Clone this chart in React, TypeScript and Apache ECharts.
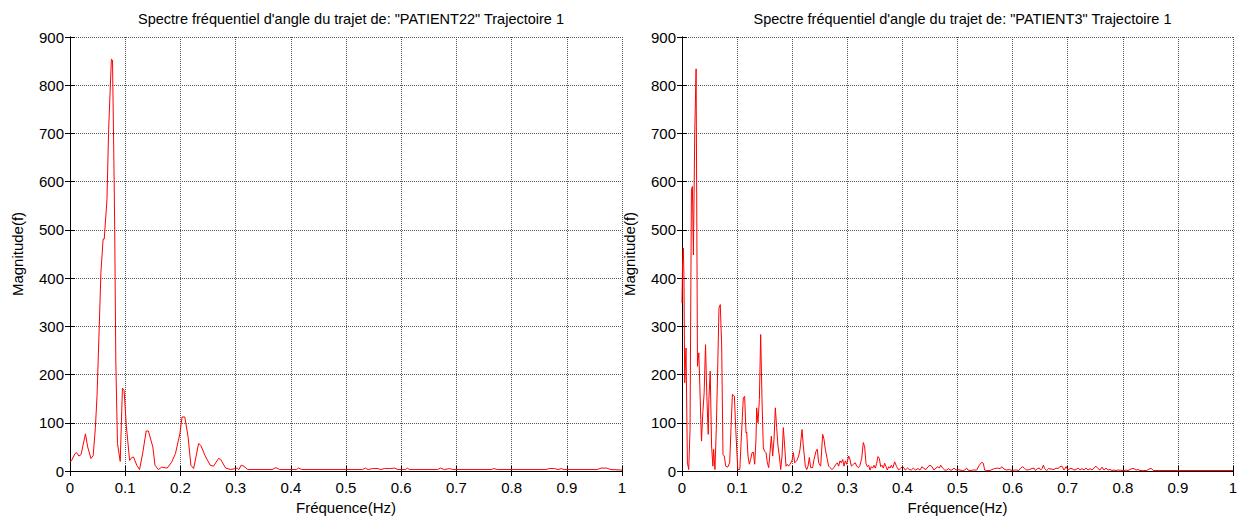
import React, { useEffect, useRef } from "react";
import * as echarts from "echarts";

const FONT = "'Liberation Sans', Arial, Helvetica, sans-serif";

const titleLeft = 'Spectre fréquentiel d\'angle du trajet de: "PATIENT22" Trajectoire 1';
const titleRight = 'Spectre fréquentiel d\'angle du trajet de: "PATIENT3" Trajectoire 1';
const xName = "Fréquence(Hz)";
const yName = "Magnitude(f)";

// [frequency (Hz), magnitude]
const patient22: [number, number][] = [
  [0.000, 18], [0.003, 22], [0.009, 36], [0.012, 38], [0.016, 31], [0.020, 34],
  [0.028, 77], [0.032, 50], [0.038, 26], [0.042, 32], [0.046, 90], [0.049, 157],
  [0.053, 300], [0.056, 412], [0.060, 481], [0.062, 481], [0.067, 563], [0.070, 708],
  [0.075, 854], [0.077, 852], [0.080, 600], [0.081, 500], [0.083, 226], [0.086, 57],
  [0.091, 20], [0.095, 172], [0.098, 167], [0.102, 94], [0.108, 22], [0.112, 28],
  [0.115, 29], [0.121, 12], [0.126, 3], [0.132, 39], [0.138, 83], [0.142, 83],
  [0.150, 50], [0.154, 12], [0.160, 3], [0.166, 8], [0.176, 6], [0.184, 18],
  [0.191, 36], [0.199, 77], [0.203, 112], [0.208, 112], [0.214, 70], [0.219, 12],
  [0.224, 5], [0.233, 57], [0.237, 53], [0.245, 31], [0.254, 12], [0.260, 10],
  [0.269, 26], [0.273, 24], [0.282, 6], [0.291, 3], [0.303, 6], [0.306, 3],
  [0.310, 12], [0.315, 10], [0.322, 3], [0.366, 3], [0.373, 7], [0.380, 3],
  [0.410, 3], [0.414, 6], [0.420, 3], [0.530, 3], [0.535, 6], [0.540, 3],
  [0.548, 5], [0.558, 5], [0.562, 3], [0.570, 5], [0.580, 5], [0.588, 6],
  [0.594, 3], [0.608, 3], [0.611, 6], [0.615, 3], [0.666, 3], [0.671, 6],
  [0.678, 3], [0.688, 5], [0.693, 3], [0.763, 3], [0.768, 5], [0.774, 3],
  [0.862, 3], [0.868, 5], [0.878, 5], [0.884, 3], [0.890, 5], [0.895, 3],
  [0.955, 3], [0.962, 6], [0.972, 6], [0.980, 3], [1.0, 2],
];

const patient3: [number, number][] = [
  [0.0, 348], [0.001, 431], [0.0024, 462], [0.0036, 400], [0.0049, 183], [0.0073, 255],
  [0.0098, 17], [0.0122, 3], [0.0146, 86], [0.0171, 583], [0.0189, 590], [0.0207, 448],
  [0.0232, 707], [0.0256, 834], [0.0281, 217], [0.0305, 245], [0.0317, 203], [0.0341, 107],
  [0.0354, 62], [0.0378, 121], [0.0402, 162], [0.0427, 262], [0.0451, 155], [0.0476, 76],
  [0.0488, 148], [0.0512, 207], [0.0537, 52], [0.0561, 10], [0.0573, 45], [0.0598, 3],
  [0.0622, 86], [0.0646, 203], [0.0671, 338], [0.0695, 345], [0.0720, 259], [0.0744, 34],
  [0.0768, 31], [0.0793, 10], [0.0829, 8], [0.0866, 17], [0.0890, 90], [0.0915, 159],
  [0.0951, 155], [0.0976, 86], [0.1012, 3], [0.1049, 3], [0.1073, 60], [0.1113, 152],
  [0.1137, 155], [0.1162, 79], [0.1174, 81], [0.1198, 31], [0.1222, 14], [0.1246, 24],
  [0.1271, 38], [0.1295, 39], [0.1319, 14], [0.1343, 66], [0.1355, 131], [0.1379, 100],
  [0.1404, 148], [0.1428, 283], [0.1452, 148], [0.1476, 48], [0.1500, 41], [0.1525, 38],
  [0.1549, 17], [0.1573, 7], [0.1597, 38], [0.1621, 72], [0.1646, 31], [0.1670, 66],
  [0.1694, 131], [0.1718, 90], [0.1742, 52], [0.1767, 31], [0.1791, 3], [0.1815, 31],
  [0.1839, 90], [0.1863, 52], [0.1888, 10], [0.1912, 14], [0.1936, 10], [0.1960, 14],
  [0.1996, 21], [0.2021, 38], [0.2045, 17], [0.2081, 21], [0.2117, 31], [0.2142, 45],
  [0.2178, 86], [0.2202, 52], [0.2238, 10], [0.2263, 3], [0.2287, 10], [0.2311, 28],
  [0.2335, 7], [0.2371, 7], [0.2396, 24], [0.2432, 41], [0.2456, 45], [0.2480, 17],
  [0.2517, 10], [0.2553, 76], [0.2577, 66], [0.2601, 45], [0.2637, 24], [0.2662, 10],
  [0.2686, 7], [0.2722, 3], [0.2758, 7], [0.2795, 14], [0.2819, 17], [0.2843, 10],
  [0.2867, 21], [0.2891, 17], [0.2916, 24], [0.2940, 10], [0.2964, 21], [0.2988, 14],
  [0.3025, 31], [0.3049, 24], [0.3073, 10], [0.3110, 14], [0.3146, 17], [0.3170, 10],
  [0.3206, 7], [0.3230, 12], [0.3261, 26], [0.3291, 59], [0.3315, 50], [0.3339, 16],
  [0.3364, 9], [0.3388, 12], [0.3412, 2], [0.3436, 9], [0.3460, 6], [0.3485, 12],
  [0.3509, 6], [0.3533, 16], [0.3557, 30], [0.3581, 26], [0.3606, 9], [0.3630, 12],
  [0.3654, 6], [0.3678, 16], [0.3702, 9], [0.3727, 2], [0.3751, 9], [0.3775, 6],
  [0.3799, 12], [0.3823, 6], [0.3860, 19], [0.3896, 9], [0.3932, 2], [0.3969, 6],
  [0.4005, 9], [0.4029, 6], [0.4053, 2], [0.4090, 6], [0.4126, 3], [0.4162, 2],
  [0.4198, 6], [0.4235, 2], [0.4283, 5], [0.4319, 2], [0.4356, 9], [0.4380, 6],
  [0.4428, 3], [0.4465, 9], [0.4501, 12], [0.4537, 9], [0.4574, 2], [0.4610, 6],
  [0.4646, 9], [0.4670, 6], [0.4695, 12], [0.4731, 6], [0.4767, 2], [0.4803, 2],
  [0.4840, 5], [0.4864, 2], [0.4900, 2], [0.4936, 6], [0.4973, 2], [0.5009, 3],
  [0.5045, 2], [0.5094, 1], [0.5130, 2], [0.5166, 6], [0.5191, 2], [0.5227, 1],
  [0.5287, 2], [0.5348, 2], [0.5396, 12], [0.5439, 18], [0.5469, 16], [0.5493, 2],
  [0.5530, 1], [0.5590, 1], [0.5626, 3], [0.5675, 5], [0.5723, 6], [0.5771, 5],
  [0.5808, 9], [0.5844, 4], [0.5893, 2], [0.5941, 3], [0.5989, 1], [0.6038, 2],
  [0.6074, 2], [0.6110, 1], [0.6146, 6], [0.6183, 9], [0.6219, 5], [0.6255, 2],
  [0.6304, 3], [0.6352, 5], [0.6388, 6], [0.6413, 1], [0.6449, 5], [0.6485, 6],
  [0.6509, 2], [0.6534, 5], [0.6558, 12], [0.6582, 5], [0.6618, 1], [0.6655, 5],
  [0.6751, 3], [0.6788, 6], [0.6824, 5], [0.6860, 9], [0.6897, 10], [0.6933, 2],
  [0.6970, 9], [0.7005, 2], [0.7042, 5], [0.7078, 5], [0.7114, 2], [0.7150, 3],
  [0.7187, 6], [0.7223, 2], [0.7259, 5], [0.7296, 2], [0.7332, 6], [0.7368, 2],
  [0.7405, 5], [0.7441, 2], [0.7477, 6], [0.7513, 10], [0.7550, 5], [0.7586, 2],
  [0.7622, 8], [0.7659, 2], [0.7695, 6], [0.7731, 2], [0.7768, 3], [0.7804, 1],
  [0.7840, 2], [0.7876, 1], [0.7913, 2], [0.8022, 1], [0.8058, 2], [0.8094, 1],
  [0.8131, 3], [0.8167, 5], [0.8203, 5], [0.8240, 2], [0.8276, 3], [0.8312, 1],
  [0.8372, 1], [0.8433, 1], [0.8493, 5], [0.8523, 5], [0.8554, 1], [0.9, 1], [1.0, 1],
];

const xMin = 0, xMax = 1, xStep = 0.1;
const yMin = 0, yMax = 900, yStep = 100;

const grids = [
  { left: 70, top: 37, width: 552, height: 434, outerBoundsMode: "none" },
  { left: 682, top: 37, width: 551, height: 434, outerBoundsMode: "none" },
];

export default function App() {
  const ref = useRef<HTMLDivElement>(null);
  useEffect(() => {
    if (!ref.current) return;
    const chart = echarts.init(ref.current, undefined, { renderer: "svg" });
    const line = { lineStyle: { color: "#000", width: 1 } };
    const split = { show: true, lineStyle: { color: "#555", type: [1, 1], width: 1 } };
    const tickIn = { show: true, inside: true, length: 5, lineStyle: { color: "#000" } };
    const xAxes: any[] = [];
    const yAxes: any[] = [];
    grids.forEach((_, i) => {
      xAxes.push({
        type: "value", gridIndex: i, min: xMin, max: xMax, interval: xStep, position: "bottom",
        axisLine: line, axisTick: tickIn, splitLine: split,
        axisLabel: { color: "#000", fontSize: 15, fontFamily: FONT, margin: 9 },
        name: xName, nameLocation: "middle", nameGap: 29,
        nameTextStyle: { color: "#000", fontSize: 15, fontFamily: FONT },
      });
      xAxes.push({
        type: "value", gridIndex: i, min: xMin, max: xMax, interval: xStep, position: "top",
        axisLine: line, axisTick: tickIn, splitLine: { show: false }, axisLabel: { show: false },
      });
      yAxes.push({
        type: "value", gridIndex: i, min: yMin, max: yMax, interval: yStep, position: "left",
        axisLine: line, axisTick: tickIn, splitLine: split,
        axisLabel: { color: "#000", fontSize: 15, fontFamily: FONT, margin: 6 },
        name: yName, nameLocation: "middle", nameGap: 45, nameRotate: 90,
        nameTextStyle: { color: "#000", fontSize: 15, fontFamily: FONT },
      });
      yAxes.push({
        type: "value", gridIndex: i, min: yMin, max: yMax, interval: yStep, position: "right",
        axisLine: line, axisTick: tickIn, splitLine: { show: false }, axisLabel: { show: false },
      });
    });
    chart.setOption({
      animation: false,
      backgroundColor: "#fff",
      title: [
        { text: titleLeft, left: grids[0].left + grids[0].width / 2, textAlign: "center", top: 6,
          textStyle: { fontSize: 14.5, fontWeight: "normal", color: "#000", fontFamily: FONT } },
        { text: titleRight, left: grids[1].left + grids[1].width / 2, textAlign: "center", top: 6,
          textStyle: { fontSize: 14.5, fontWeight: "normal", color: "#000", fontFamily: FONT } },
      ],
      grid: grids,
      xAxis: xAxes,
      yAxis: yAxes,
      series: [
        { type: "line", xAxisIndex: 0, yAxisIndex: 0, data: patient22, showSymbol: false,
          lineStyle: { color: "#ff0000", width: 1 } },
        { type: "line", xAxisIndex: 2, yAxisIndex: 2, data: patient3, showSymbol: false,
          lineStyle: { color: "#ff0000", width: 1 } },
      ],
    });
    return () => chart.dispose();
  }, []);
  return <div ref={ref} style={{ position: "fixed", left: 0, top: 0, width: 1241, height: 516 }} />;
}
